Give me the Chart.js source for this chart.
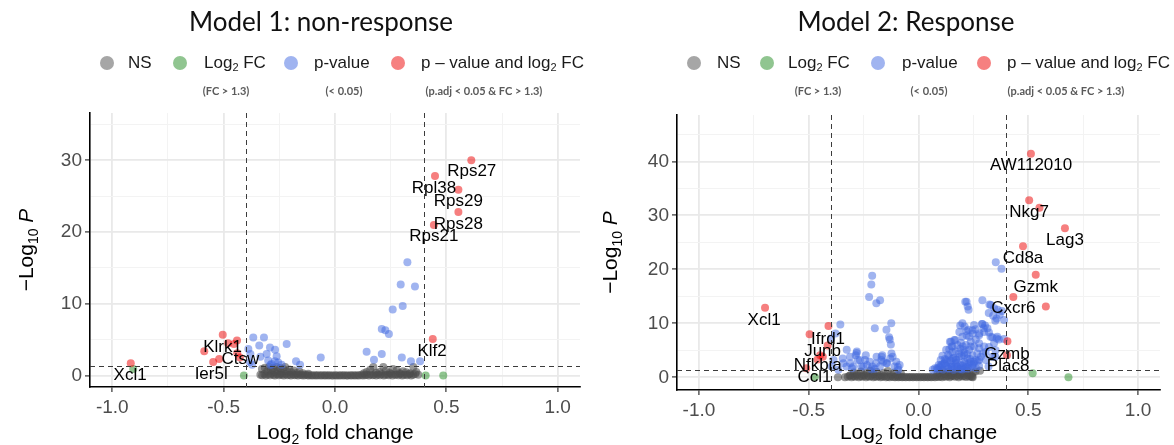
<!DOCTYPE html>
<html>
<head>
<meta charset="utf-8">
<script src="https://cdn.jsdelivr.net/npm/chart.js@4.4.0/dist/chart.umd.min.js"></script>
<style>
  body { margin: 0; background: #fff; width: 1174px; height: 445px; position: relative; overflow: hidden; font-family: "Liberation Sans", Arial, sans-serif; }
  canvas { position: absolute; top: 0; }
  .title { position: absolute; top: 5px; font-family: Lato, sans-serif; font-size: 26px; color: #111; transform: translateX(-50%); white-space: nowrap; }
  .dot { position: absolute; top: 56px; width: 14px; height: 14px; border-radius: 50%; }
  .leg { position: absolute; top: 52px; font-size: 17px; line-height: 22px; color: #1a1a1a; white-space: nowrap; }
  .leg sub { font-size: 11px; vertical-align: -3px; line-height: 0; }
  .cap { position: absolute; top: 84px; font-family: Lato, sans-serif; font-weight: bold; font-size: 11px; color: #5a5a5a; transform: translateX(-50%); white-space: nowrap; }
</style>
</head>
<body>
<canvas id="m1" width="590" height="445" style="left:0px"></canvas>
<canvas id="m2" width="587" height="445" style="left:587px"></canvas>
<div id="overlay"></div>
<script>
// ---- thresholds and axis ticks ----
var fcCut = 0.4;      // log2 fold change cut-off
var pCut = 1.3;       // -log10(0.05)
var xGrid = [-1, -0.75, -0.5, -0.25, 0, 0.25, 0.5, 0.75, 1];
var yGrid1 = [0, 5, 10, 15, 20, 25, 30, 35];
var yGrid2 = [0, 5, 10, 15, 20, 25, 30, 35, 40, 45];

var legendNames = ['NS', 'Log<sub>2</sub> FC', 'p-value', 'p \u2013 value and log<sub>2</sub> FC'];
var legendNotes = ['', '(FC > 1.3)', '(< 0.05)', '(p.adj < 0.05 & FC > 1.3)'];
var titles = ['Model 1: non-response', 'Model 2: Response'];

// ---- Model 1: non-response ----
var m1NsX = [-0.335, -0.327, -0.317, -0.311, -0.302, -0.292, -0.286, -0.276, -0.27, -0.261, -0.253, -0.246, -0.237, -0.23, -0.221,
  -0.214, -0.204, -0.198, -0.188, -0.181, -0.173, -0.166, -0.156, -0.149, -0.14, -0.133, -0.124, -0.117, -0.107, -0.1,
  -0.09, -0.083, -0.075, -0.065, -0.058, -0.048, -0.042, -0.032, -0.025, -0.015, -0.008, 0.002, 0.008, 0.019, 0.025,
  0.035, 0.042, 0.052, 0.058, 0.069, 0.075, 0.085, 0.092, 0.102, 0.108, 0.119, 0.125, 0.135, 0.142, 0.152, 0.158,
  0.169, 0.175, 0.185, 0.192, 0.202, 0.208, 0.219, 0.225, 0.235, 0.242, 0.252, 0.258, 0.269, 0.275, 0.285, 0.292,
  0.302, 0.308, 0.319, 0.325, 0.335, 0.342, 0.351,
  -0.328, -0.315, -0.305, -0.296, -0.288, -0.279, -0.27, -0.262, -0.255, -0.247, -0.24, -0.232, -0.224, -0.216, -0.205,
  -0.196, -0.185, -0.172, -0.16, -0.145, -0.12,
  0.13, 0.142, 0.158, 0.172, 0.185, 0.2, 0.217, 0.228, 0.245, 0.26, 0.277, 0.29, 0.305, 0.32, 0.337, 0.352, 0.365, 0.374, 0.36];
var m1NsY = [0.1, 0.05, 0.2, 0.0, 0.15, 0.05, 0.25, 0.1, 0.0, 0.2, 0.05, 0.15, 0.1, 0.0, 0.2,
  0.05, 0.1, 0.0, 0.15, 0.05, 0.1, 0.0, 0.1, 0.05, 0.0, 0.1, 0.05, 0.0, 0.05, 0.0,
  0.05, 0.0, 0.05, 0.0, 0.05, 0.0, 0.05, 0.0, 0.05, 0.0, 0.0, 0.05, 0.0, 0.0, 0.05,
  0.0, 0.05, 0.0, 0.0, 0.05, 0.0, 0.05, 0.0, 0.05, 0.0, 0.1, 0.0, 0.05, 0.1, 0.0, 0.15,
  0.05, 0.1, 0.0, 0.15, 0.05, 0.2, 0.0, 0.1, 0.15, 0.05, 0.2, 0.0, 0.1, 0.15, 0.05, 0.2,
  0.0, 0.1, 0.15, 0.05, 0.2, 0.0, 0.1,
  0.9, 1.1, 0.6, 1.2, 0.8, 1.0, 0.5, 1.2, 0.7, 1.05, 0.4, 0.9, 1.2, 0.6, 0.85,
  0.45, 0.7, 0.35, 0.55, 0.3, 0.25,
  0.3, 0.5, 0.8, 1.2, 0.4, 0.5, 1.2, 0.7, 0.4, 0.9, 0.74, 0.35, 0.6, 0.45, 0.3, 1.2, 0.5, 0.1, 0.2];
var m1FcX = [-0.906, -0.409, 0.407, 0.486];
var m1FcY = [0.9, 0.0, 0.0, 0.0];
var m1PX = [0.325, 0.295, 0.359, 0.259, 0.304, 0.21, 0.226, 0.242, 0.142, 0.21, 0.175, 0.3, 0.341, 0.382, -0.064,
  -0.367, -0.319, -0.389, -0.34, -0.292, -0.269, -0.307, -0.262, -0.217, -0.3, -0.27, -0.255, -0.175, -0.157, -0.38,
  -0.382, -0.335, -0.285, -0.24, -0.29, -0.372];
var m1PY = [15.8, 12.7, 12.4, 9.2, 9.7, 6.5, 6.3, 5.8, 3.3, 3.0, 2.2, 2.5, 2.0, 2.0, 2.5,
  5.3, 5.3, 3.7, 4.2, 3.9, 3.6, 3.0, 2.7, 4.4, 2.1, 2.0, 1.8, 2.0, 1.5, 3.0,
  1.9, 2.6, 1.6, 1.5, 1.45, 1.5];
var m1BothX = [0.612, 0.449, 0.554, 0.554, 0.444, 0.439, -0.504, -0.44, -0.48, -0.454, -0.587, -0.547, -0.439, -0.427, -0.52, -0.917];
var m1BothY = [30.0, 27.8, 25.9, 22.8, 21.0, 5.1, 5.7, 4.9, 4.5, 4.4, 3.4, 1.9, 3.1, 2.5, 2.3, 1.7];
var m1Genes = ['Rps27', 'Rpl38', 'Rps29', 'Rps28', 'Rps21', 'Klf2', 'Klrk1', 'Ctsw', 'Ier5l', 'Xcl1'];
var m1GeneX = [0.614, 0.444, 0.554, 0.554, 0.444, 0.436, -0.505, -0.425, -0.556, -0.92];
var m1GeneY = [28.5, 26.1, 24.3, 21.1, 19.4, 3.4, 4.0, 2.2, 0.1, 0.0];

// ---- Model 2: Response ----
var m2NsX = [-0.367, -0.335, -0.322, -0.314, -0.305, -0.297, -0.289, -0.281, -0.272, -0.264, -0.256, -0.248, -0.239, -0.231,
  -0.223, -0.214, -0.206, -0.198, -0.19, -0.181, -0.173, -0.165, -0.157, -0.148, -0.14, -0.132, -0.124, -0.115, -0.107,
  -0.099, -0.091, -0.082, -0.074, -0.066, -0.058, -0.049, -0.041, -0.033, -0.025, -0.016, -0.008, 0.0, 0.009, 0.017,
  0.025, 0.034, 0.042, 0.05, 0.058, 0.067, 0.075, 0.083, 0.092, 0.1, 0.108, 0.117, 0.125, 0.133, 0.142, 0.15, 0.158,
  0.166, 0.175, 0.183, 0.191, 0.2, 0.208, 0.216, 0.225, 0.233, 0.241, 0.247,
  -0.31, -0.295, -0.28, -0.262, -0.25, -0.235, -0.22, -0.205, -0.19, -0.172, -0.158, -0.14, -0.125, -0.11, -0.095, -0.08,
  0.085, 0.098, 0.11, 0.122, 0.135, 0.148, 0.16, 0.172, 0.185, 0.198, 0.21, 0.222, 0.235, 0.248, 0.26, 0.28, 0.244];
var m2NsY = [0.0, 0.0, 0.1, 0.3, 0.0, 0.2, 0.1, 0.3, 0.0, 0.2, 0.1, 0.3, 0.0, 0.2,
  0.1, 0.25, 0.0, 0.15, 0.1, 0.2, 0.0, 0.1, 0.2, 0.0, 0.1, 0.0, 0.15, 0.05, 0.0,
  0.1, 0.0, 0.05, 0.0, 0.05, 0.0, 0.05, 0.0, 0.05, 0.0, 0.05, 0.0, 0.05, 0.0, 0.05,
  0.0, 0.05, 0.0, 0.05, 0.0, 0.1, 0.0, 0.1, 0.05, 0.15, 0.0, 0.2, 0.1, 0.25, 0.0, 0.2, 0.3,
  0.1, 0.25, 0.0, 0.3, 0.15, 0.25, 0.05, 0.3, 0.1, 0.2, 0.0,
  0.4, 0.9, 0.6, 1.1, 0.5, 0.8, 1.2, 0.6, 1.0, 0.45, 0.85, 1.15, 0.55, 0.9, 0.4, 0.7,
  0.5, 0.9, 1.2, 0.6, 1.0, 0.4, 0.8, 1.15, 0.5, 0.95, 0.7, 1.2, 0.45, 0.85, 1.1, 1.2, 0.1];
var m2FcX = [0.52, 0.683, -0.472];
var m2FcY = [0.74, 0.0, 0.05];
var m2PX = [0.352, 0.378, 0.219, 0.224, 0.228, 0.291, 0.329, 0.32, 0.34, 0.356, 0.37, 0.38, 0.39, 0.35, 0.389,
  0.2, 0.21, 0.186, 0.219, 0.246, 0.276, 0.261, 0.291, 0.303, 0.299, 0.314, 0.321, 0.336, 0.359, 0.366, 0.344,
  0.321, 0.276, 0.238, 0.253, 0.231, 0.216, 0.2, 0.193, 0.178, 0.163, 0.155, 0.14, 0.148, 0.17, 0.186, 0.208,
  0.223, 0.246, 0.268, 0.284, 0.306, 0.276, 0.253, 0.231, 0.208, 0.193, 0.17, 0.155, 0.14, 0.125, 0.118, 0.103,
  0.095, 0.148, 0.178, 0.216, 0.246, 0.276, 0.306, 0.336, 0.299, 0.276, 0.351, 0.231, 0.253, 0.219, 0.238,
  0.289, 0.297, 0.26, 0.247, 0.19, 0.227, 0.277, 0.328, 0.356, 0.213, 0.323, 0.345, 0.361, 0.143, 0.151, 0.126,
  0.109, 0.101, 0.092, 0.084, 0.118, 0.168, 0.202, 0.244, 0.26, 0.294, 0.319, 0.227, 0.193, 0.176, 0.21, 0.134,
  0.151, 0.168, 0.35,
  0.065, 0.075, 0.088, 0.1, 0.112, 0.125, 0.138, 0.15, 0.162, 0.175, 0.188, 0.2, 0.212, 0.225, 0.238, 0.13, 0.145,
  0.16, 0.172, 0.185, 0.197, 0.21, 0.222, 0.235, 0.25, 0.262, 0.27, 0.11, 0.12, 0.135, 0.155, 0.19, 0.205, 0.16, 0.2,
  -0.211, -0.215, -0.225, -0.175, -0.192, -0.199, -0.146, -0.124, -0.131, -0.134, -0.126, -0.123, -0.129, -0.356,
  -0.378, -0.398, -0.281, -0.286, -0.24, -0.277, -0.311, -0.345, -0.328, -0.235, -0.21, -0.168, -0.16, -0.118,
  -0.143, -0.109, -0.092, -0.193, -0.261, -0.303, -0.387, -0.395, -0.365, -0.165, -0.244, -0.327, -0.282, -0.312,
  -0.267, -0.222, -0.191, -0.169, -0.146, -0.101, -0.086, -0.342, -0.297, -0.252, -0.176, -0.094, -0.215, -0.2];
var m2PY = [21.3, 20.1, 14.0, 13.1, 12.5, 14.3, 13.4, 11.9, 11.4, 10.9, 11.6, 12.3, 10.6, 10.5, 7.1,
  10.0, 9.4, 8.4, 8.6, 8.7, 7.8, 7.0, 9.9, 9.6, 8.4, 9.1, 8.3, 7.4, 7.5, 7.0, 6.3,
  5.6, 6.3, 6.6, 5.7, 5.1, 6.0, 7.5, 6.4, 6.0, 6.9, 5.7, 5.2, 6.6, 4.8, 3.8, 4.1,
  3.5, 4.1, 4.4, 3.8, 4.7, 3.2, 2.9, 2.6, 2.9, 2.3, 3.2, 3.5, 3.8, 3.2, 2.6, 2.3,
  1.9, 2.0, 1.9, 2.0, 1.9, 2.1, 3.2, 3.8, 5.7, 5.4, 5.0, 7.5, 9.7, 7.8, 5.7,
  9.9, 9.1, 8.9, 8.1, 9.6, 8.8, 8.1, 7.5, 7.2, 14.0, 13.5, 12.8, 12.5, 6.6, 5.7, 5.1,
  4.0, 3.2, 2.3, 1.7, 2.6, 6.9, 5.7, 2.3, 3.2, 4.4, 2.0, 2.0, 1.7, 2.0, 1.7, 1.7,
  2.0, 2.6, 3.8,
  1.4, 1.7, 1.5, 1.8, 1.45, 2.1, 1.6, 2.4, 1.9, 2.7, 1.5, 2.2, 2.6, 1.6, 2.9, 2.9, 3.1,
  3.6, 3.3, 4.4, 3.9, 4.6, 4.3, 3.4, 2.5, 1.7, 3.0, 2.4, 3.4, 4.2, 4.7, 5.3, 5.1, 1.4, 1.45,
  18.8, 17.2, 14.9, 14.3, 13.7, 9.1, 8.8, 10.0, 7.0, 7.4, 6.1, 4.4, 3.5, 9.8,
  8.1, 7.2, 4.8, 4.1, 4.1, 3.2, 2.6, 3.5, 2.0, 2.3, 2.0, 3.8, 2.9, 3.8,
  2.6, 2.0, 1.4, 2.6, 2.0, 1.7, 3.2, 2.0, 1.4, 4.1, 3.2, 5.1, 4.5, 3.8,
  3.2, 2.9, 3.8, 3.2, 2.6, 2.9, 2.3, 2.6, 2.0, 2.0, 2.0, 1.9, 1.5, 1.6];
var m2BothX = [0.512, 0.504, 0.551, 0.667, 0.476, 0.534, 0.432, 0.58, 0.405, 0.403, -0.699, -0.41, -0.496, -0.414, -0.448, -0.436, -0.511, -0.46];
var m2BothY = [41.4, 32.8, 31.4, 27.6, 24.3, 19.0, 14.9, 13.1, 6.7, 4.1, 12.9, 9.5, 8.0, 5.9, 4.1, 3.8, 1.7, 3.3];
var m2Genes = ['AW112010', 'Nkg7', 'Lag3', 'Cd8a', 'Gzmk', 'Cxcr6', 'Gzmb', 'Plac8', 'Xcl1', 'Ifrd1', 'Junb', 'Nfkbia', 'Ccl1'];
var m2GeneX = [0.513, 0.504, 0.667, 0.476, 0.534, 0.432, 0.403, 0.408, -0.703, -0.412, -0.437, -0.459, -0.474];
var m2GeneY = [39.2, 30.5, 25.3, 22.0, 16.7, 12.7, 4.3, 2.0, 10.6, 7.1, 4.9, 2.3, 0.0];

// EnhancedVolcano style colours (alpha 0.5)
var colNS = 'rgba(77,77,77,0.58)';
var colFC = 'rgba(34,139,34,0.5)';
var colP = 'rgba(65,105,225,0.5)';
var colBoth = 'rgba(238,0,0,0.5)';
var legendColours = ['#a6a6a6', '#90c590', '#a0b4f0', '#f68080'];

function pts(xs, ys) {
  return xs.map(function(x, i) { return { x: x, y: ys[i] }; });
}

function isMajorX(v) { return Math.abs(v * 2 - Math.round(v * 2)) < 1e-6; }
function isMajorY(v) { return v % 10 === 0; }

// dashed cut-off lines, gene labels and axis titles
var decor = {
  id: 'decor',
  afterDatasetsDraw: function(chart, args, opts) {
    var ctx = chart.ctx, xs = chart.scales.x, ys = chart.scales.y, a = chart.chartArea;
    ctx.save();
    ctx.beginPath();
    ctx.rect(a.left, a.top, a.right - a.left, a.bottom - a.top);
    ctx.clip();
    ctx.setLineDash([5, 4]);
    ctx.strokeStyle = '#3c3c3c';
    ctx.lineWidth = 1;
    [-fcCut, fcCut].forEach(function(v) {
      var px = Math.round(xs.getPixelForValue(v)) + 0.5;
      ctx.beginPath(); ctx.moveTo(px, a.top); ctx.lineTo(px, a.bottom); ctx.stroke();
    });
    var py = Math.round(ys.getPixelForValue(pCut)) + 0.5;
    ctx.beginPath(); ctx.moveTo(a.left, py); ctx.lineTo(a.right, py); ctx.stroke();
    ctx.restore();

    ctx.save();
    ctx.font = '17px "Liberation Sans", Arial, sans-serif';
    ctx.fillStyle = '#000';
    ctx.textAlign = 'center';
    ctx.textBaseline = 'middle';
    opts.genes.forEach(function(g, i) {
      ctx.fillText(g, xs.getPixelForValue(opts.gx[i]), ys.getPixelForValue(opts.gy[i]));
    });
    ctx.restore();
  },
  afterDraw: function(chart) {
    var ctx = chart.ctx, a = chart.chartArea;
    ctx.save();
    ctx.fillStyle = '#000';
    ctx.textBaseline = 'alphabetic';
    // x title: Log2 fold change
    var big = '21px "Liberation Sans", Arial, sans-serif';
    var small = '14px "Liberation Sans", Arial, sans-serif';
    ctx.font = big; var w1 = ctx.measureText('Log').width; var w3 = ctx.measureText(' fold change').width;
    ctx.font = small; var w2 = ctx.measureText('2').width;
    var cx = (a.left + a.right) / 2, x0 = cx - (w1 + w2 + w3) / 2, yb = 439;
    ctx.font = big; ctx.fillText('Log', x0, yb);
    ctx.font = small; ctx.fillText('2', x0 + w1, yb + 5);
    ctx.font = big; ctx.fillText(' fold change', x0 + w1 + w2, yb);
    // y title: -Log10 P
    ctx.translate(chart.options.plugins.decor.ytx, (a.top + a.bottom) / 2);
    ctx.rotate(-Math.PI / 2);
    var italic = 'italic 21px "Liberation Sans", Arial, sans-serif';
    ctx.font = big; var v1 = ctx.measureText('\u2212Log').width;
    ctx.font = small; var v2 = ctx.measureText('10').width;
    ctx.font = big; var v3 = ctx.measureText(' ').width;
    ctx.font = italic; var v4 = ctx.measureText('P').width;
    var s0 = -(v1 + v2 + v3 + v4) / 2;
    ctx.font = big; ctx.fillText('\u2212Log', s0, 0);
    ctx.font = small; ctx.fillText('10', s0 + v1, 5);
    ctx.font = italic; ctx.fillText('P', s0 + v1 + v2 + v3, 0);
    ctx.restore();
  }
};

function volcano(id, d) {
  var gridColour = function(major) {
    return function(c) { return major(c.tick.value) ? '#e9e9e9' : '#f3f3f3'; };
  };
  var gridWidth = function(major) {
    return function(c) { return major(c.tick.value) ? 1.8 : 1; };
  };
  var tickColour = function(major) {
    return function(c) { return major(c.tick.value) ? '#333' : 'rgba(0,0,0,0)'; };
  };
  return new Chart(document.getElementById(id), {
    type: 'scatter',
    data: {
      datasets: [
        { label: 'p - value and log2 FC', data: pts(d.bothX, d.bothY), backgroundColor: colBoth },
        { label: 'p-value', data: pts(d.pX, d.pY), backgroundColor: colP },
        { label: 'Log2 FC', data: pts(d.fcX, d.fcY), backgroundColor: colFC },
        { label: 'NS', data: pts(d.nsX, d.nsY), backgroundColor: colNS }
      ]
    },
    options: {
      responsive: false,
      animation: false,
      layout: { padding: d.pad },
      elements: { point: { radius: 4, borderWidth: 0, hoverRadius: 4 } },
      plugins: {
        legend: { display: false },
        tooltip: { enabled: false },
        decor: { genes: d.genes, gx: d.gx, gy: d.gy, ytx: d.ytx }
      },
      scales: {
        x: {
          type: 'linear', min: -1.1, max: 1.1,
          afterBuildTicks: function(s) { s.ticks = xGrid.map(function(v) { return { value: v }; }); },
          afterFit: function(s) { s.height = d.xh; },
          grid: { color: gridColour(isMajorX), lineWidth: gridWidth(isMajorX), tickColor: tickColour(isMajorX), tickLength: 5, tickWidth: 1.2 },
          border: { color: '#000', width: 1.6 },
          ticks: {
            autoSkip: false, maxRotation: 0, padding: 4, color: '#4d4d4d',
            font: { family: '"Liberation Sans", Arial, sans-serif', size: 19 },
            callback: function(v) { return isMajorX(v) ? v.toFixed(1) : ''; }
          }
        },
        y: {
          type: 'linear', min: d.ymin, max: d.ymax,
          afterBuildTicks: function(s) { s.ticks = d.yGrid.map(function(v) { return { value: v }; }); },
          afterFit: function(s) { s.width = 50; },
          grid: { color: gridColour(isMajorY), lineWidth: gridWidth(isMajorY), tickColor: tickColour(isMajorY), tickLength: 5, tickWidth: 1.2 },
          border: { color: '#000', width: 1.6 },
          ticks: {
            autoSkip: false, padding: 3, color: '#4d4d4d',
            font: { family: '"Liberation Sans", Arial, sans-serif', size: 19 },
            callback: function(v) { return isMajorY(v) ? String(v) : ''; }
          }
        }
      }
    },
    plugins: [decor]
  });
}

volcano('m1', {
  nsX: m1NsX, nsY: m1NsY, fcX: m1FcX, fcY: m1FcY, pX: m1PX, pY: m1PY, bothX: m1BothX, bothY: m1BothY,
  genes: m1Genes, gx: m1GeneX, gy: m1GeneY,
  ymin: -1.6, ymax: 36.6, yGrid: yGrid1,
  pad: { left: 40, top: 113, right: 10, bottom: 0 }, xh: 58, ytx: 33
});
volcano('m2', {
  nsX: m2NsX, nsY: m2NsY, fcX: m2FcX, fcY: m2FcY, pX: m2PX, pY: m2PY, bothX: m2BothX, bothY: m2BothY,
  genes: m2Genes, gx: m2GeneX, gy: m2GeneY,
  ymin: -2.35, ymax: 48.6, yGrid: yGrid2,
  pad: { left: 40, top: 115, right: 14, bottom: 0 }, xh: 55, ytx: 30
});

// titles and legends (HTML text above each panel)
var panels = [
  { title: 321, dots: [107, 180, 291, 398], texts: [128, 204, 314, 421], notes: [0, 226, 344, 484] },
  { title: 906, dots: [694, 767, 878, 984], texts: [717, 788, 902, 1007], notes: [0, 818, 929, 1066] }
];
var overlay = document.getElementById('overlay');
panels.forEach(function(p, k) {
  var html = '<div class="title" style="left:' + p.title + 'px">' + titles[k] + '</div>';
  legendNames.forEach(function(name, i) {
    html += '<div class="dot" style="left:' + (p.dots[i] - 7) + 'px;background:' + legendColours[i] + '"></div>';
    html += '<div class="leg" style="left:' + p.texts[i] + 'px">' + name + '</div>';
    if (legendNotes[i]) {
      html += '<div class="cap" style="left:' + p.notes[i] + 'px">' + legendNotes[i].replace(/&/g, '&amp;').replace(/</g, '&lt;').replace(/>/g, '&gt;') + '</div>';
    }
  });
  overlay.innerHTML += html;
});
</script>
</body>
</html>
